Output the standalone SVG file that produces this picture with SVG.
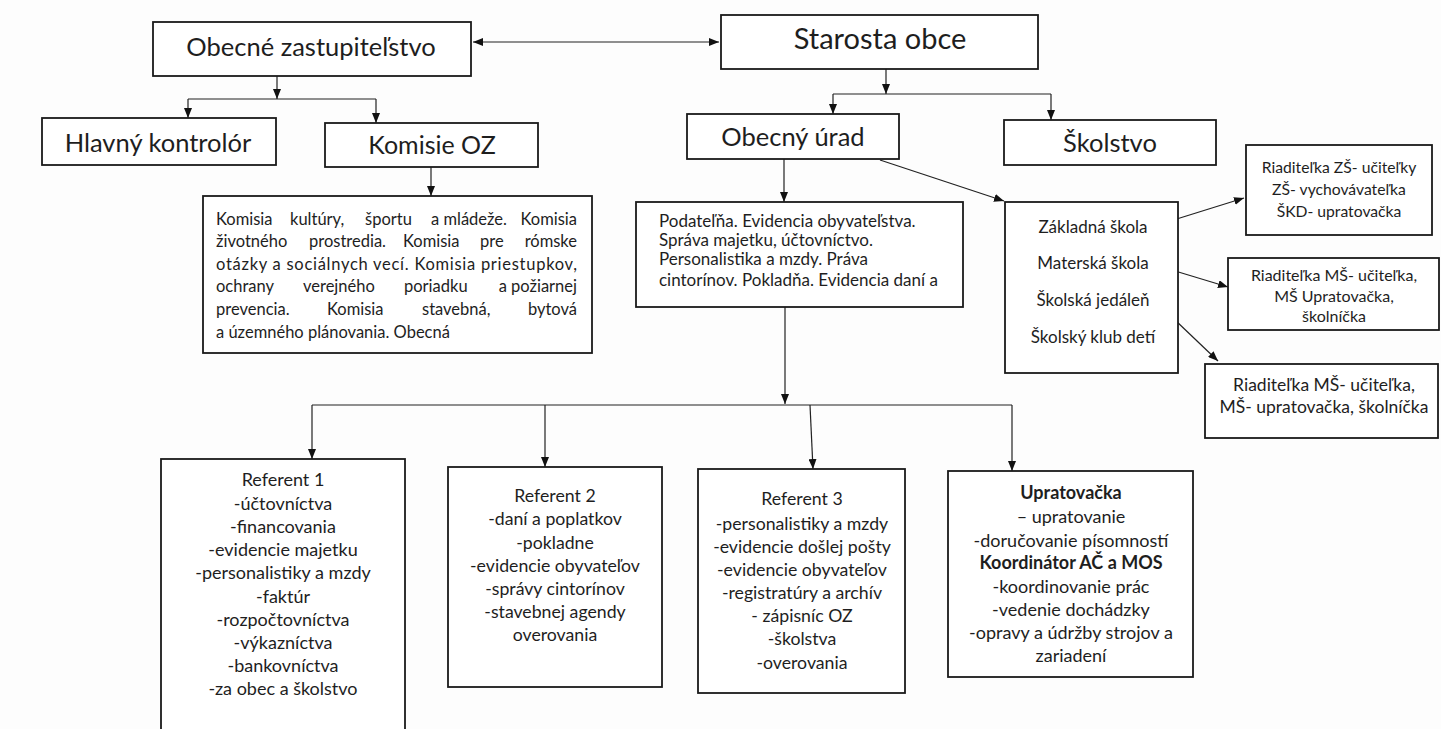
<svg xmlns="http://www.w3.org/2000/svg" width="1441" height="729" viewBox="0 0 1441 729">
<style>
.box{fill:#fff;stroke:#1a1a1a;stroke-width:1.8}
.t{font-family:Lato,"Open Sans","Noto Sans",sans-serif;fill:#1e1e1e}
.c{text-anchor:middle}
.e{text-anchor:end}
.b{font-weight:bold}
.ln{fill:none;stroke:#222;stroke-width:1.2}
</style>
<defs>
<marker id="ah" viewBox="0 0 10 8" refX="10" refY="4" markerWidth="10" markerHeight="8" markerUnits="userSpaceOnUse" orient="auto-start-reverse">
<path d="M0,0 L10,4 L0,8 z" fill="#111"/>
</marker>
</defs>
<rect width="1441" height="729" fill="#fdfdfd"/>

<g id="connectors">
<line class="ln" x1="473" y1="42" x2="719" y2="42" marker-start="url(#ah)" marker-end="url(#ah)"/>
<path class="ln" d="M277,76 V99" marker-end="url(#ah)"/>
<path class="ln" d="M188,99 H376"/>
<path class="ln" d="M188,99 V118" marker-end="url(#ah)"/>
<path class="ln" d="M376,99 V123" marker-end="url(#ah)"/>
<path class="ln" d="M431,167 V196" marker-end="url(#ah)"/>
<path class="ln" d="M886,69 V94" marker-end="url(#ah)"/>
<path class="ln" d="M833,94 H1051"/>
<path class="ln" d="M833,94 V114" marker-end="url(#ah)"/>
<path class="ln" d="M1051,94 V120" marker-end="url(#ah)"/>
<path class="ln" d="M784,159 V202" marker-end="url(#ah)"/>
<path class="ln" d="M880,160 L1004,201" marker-end="url(#ah)"/>
<path class="ln" d="M785,307 V404" marker-end="url(#ah)"/>
<path class="ln" d="M312,405 H1012"/>
<path class="ln" d="M312,405 V459" marker-end="url(#ah)"/>
<path class="ln" d="M545,405 V467" marker-end="url(#ah)"/>
<path class="ln" d="M810,405 L813,469" marker-end="url(#ah)"/>
<path class="ln" d="M1012,405 V471" marker-end="url(#ah)"/>
<path class="ln" d="M1151,227 L1244,198" marker-end="url(#ah)"/>
<path class="ln" d="M1152,264 L1228,287" marker-end="url(#ah)"/>
<path class="ln" d="M1153,299 L1218,361" marker-end="url(#ah)"/>
</g>

<g id="obecne-zastupitelstvo">
<rect class="box" x="153" y="22" width="318" height="54"/>
<text class="t c" x="311" y="56" font-size="25.5">Obecné zastupiteľstvo</text>
</g>

<g id="starosta-obce">
<rect class="box" x="721" y="15" width="317" height="54"/>
<text class="t c" x="880" y="49" font-size="29">Starosta obce</text>
</g>

<g id="hlavny-kontrolor">
<rect class="box" x="42" y="118" width="234" height="47"/>
<text class="t c" x="158" y="152" font-size="25.5">Hlavný kontrolór</text>
</g>

<g id="komisie-oz">
<rect class="box" x="325" y="123" width="213" height="44"/>
<text class="t c" x="432" y="154" font-size="25">Komisie OZ</text>
</g>

<g id="obecny-urad">
<rect class="box" x="687" y="114" width="212" height="45"/>
<text class="t c" x="793" y="146" font-size="25.5">Obecný úrad</text>
</g>

<g id="skolstvo">
<rect class="box" x="1004" y="120" width="212" height="45"/>
<text class="t c" x="1110" y="152" font-size="25.5">Školstvo</text>
</g>

<g id="komisie-text">
<rect class="box" x="203" y="196" width="389" height="157"/>
<g class="t" font-size="16.5">
<text x="216" y="225">Komisia</text><text x="290" y="225">kultúry,</text><text x="365" y="225">športu</text><text x="431" y="225">a mládeže.</text><text class="e" x="577" y="225">Komisia</text>
<text x="216" y="247">životného</text><text x="309" y="247">prostredia.</text><text x="403" y="247">Komisia</text><text x="480" y="247">pre</text><text class="e" x="577" y="247">rómske</text>
<text x="216" y="270" textLength="361" lengthAdjust="spacing">otázky a sociálnych vecí. Komisia priestupkov,</text>
<text x="216" y="292">ochrany</text><text x="303" y="292">verejného</text><text x="404" y="292">poriadku</text><text class="e" x="577" y="292">a požiarnej</text>
<text x="216" y="315">prevencia.</text><text x="327" y="315">Komisia</text><text x="422" y="315">stavebná,</text><text class="e" x="577" y="315">bytová</text>
<text x="216" y="338">a územného plánovania. Obecná</text>
</g>
</g>

<g id="podatelna">
<rect class="box" x="636" y="202" width="327" height="105"/>
<g class="t" font-size="17">
<text x="659" y="227">Podateľňa. Evidencia obyvateľstva.</text>
<text x="659" y="246">Správa majetku, účtovníctvo.</text>
<text x="659" y="265">Personalistika a mzdy. Práva</text>
<text x="659" y="286">cintorínov. Pokladňa. Evidencia daní a</text>
</g>
</g>

<g id="skoly">
<rect class="box" x="1005" y="202" width="173" height="171"/>
<g class="t c" font-size="17">
<text x="1093" y="233">Základná škola</text>
<text x="1093" y="269">Materská škola</text>
<text x="1093" y="306">Školská jedáleň</text>
<text x="1093" y="343">Školský klub detí</text>
</g>
</g>

<g id="riaditelka-zs">
<rect class="box" x="1246" y="145" width="186" height="90"/>
<g class="t c" font-size="15.7">
<text x="1339" y="173">Riaditeľka ZŠ- učiteľky</text>
<text x="1339" y="195">ZŠ- vychovávateľka</text>
<text x="1339" y="217">ŠKD- upratovačka</text>
</g>
</g>

<g id="riaditelka-ms-1">
<rect class="box" x="1228" y="258" width="211" height="72"/>
<g class="t c" font-size="16">
<text x="1334" y="281">Riaditeľka MŠ- učiteľka,</text>
<text x="1334" y="302">MŠ Upratovačka,</text>
<text x="1334" y="322">školníčka</text>
</g>
</g>

<g id="riaditelka-ms-2">
<rect class="box" x="1205" y="364" width="233" height="74"/>
<g class="t c" font-size="17.5">
<text x="1324" y="391">Riaditeľka MŠ- učiteľka,</text>
<text x="1324" y="413">MŠ- upratovačka, školníčka</text>
</g>
</g>

<g id="referent-1">
<rect class="box" x="161" y="459" width="244" height="280"/>
<g class="t c" font-size="18">
<text x="283" y="486">Referent 1</text>
<text x="283" y="510">-účtovníctva</text>
<text x="283" y="533">-financovania</text>
<text x="283" y="556">-evidencie majetku</text>
<text x="283" y="579">-personalistiky a mzdy</text>
<text x="283" y="603">-faktúr</text>
<text x="283" y="626">-rozpočtovníctva</text>
<text x="283" y="649">-výkazníctva</text>
<text x="283" y="672">-bankovníctva</text>
<text x="283" y="695">-za obec a školstvo</text>
</g>
</g>

<g id="referent-2">
<rect class="box" x="448" y="467" width="214" height="220"/>
<g class="t c" font-size="17.7">
<text x="555" y="502">Referent 2</text>
<text x="555" y="525">-daní a poplatkov</text>
<text x="555" y="549">-pokladne</text>
<text x="555" y="572">-evidencie obyvateľov</text>
<text x="555" y="595">-správy cintorínov</text>
<text x="555" y="618">-stavebnej agendy</text>
<text x="555" y="641">overovania</text>
</g>
</g>

<g id="referent-3">
<rect class="box" x="698" y="469" width="207" height="224"/>
<g class="t c" font-size="17.7">
<text x="802" y="505">Referent 3</text>
<text x="802" y="530">-personalistiky a mzdy</text>
<text x="802" y="553">-evidencie došlej pošty</text>
<text x="802" y="576">-evidencie obyvateľov</text>
<text x="802" y="599">-registratúry a archív</text>
<text x="802" y="622">- zápisníc OZ</text>
<text x="802" y="645">-školstva</text>
<text x="802" y="669">-overovania</text>
</g>
</g>

<g id="upratovacka">
<rect class="box" x="948" y="471" width="245" height="206"/>
<g class="t c" font-size="18">
<text class="b" x="1071" y="499">Upratovačka</text>
<text x="1071" y="523">– upratovanie</text>
<text x="1071" y="547">-doručovanie písomností</text>
<text class="b" x="1071" y="569">Koordinátor AČ a MOS</text>
<text x="1071" y="593">-koordinovanie prác</text>
<text x="1071" y="616">-vedenie dochádzky</text>
<text x="1071" y="639">-opravy a údržby strojov a</text>
<text x="1071" y="662">zariadení</text>
</g>
</g>
</svg>
